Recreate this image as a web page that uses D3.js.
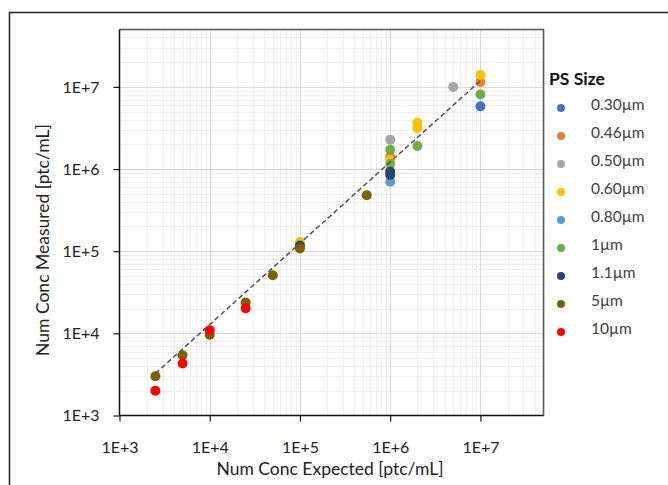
<!DOCTYPE html>
<html>
<head>
<meta charset="utf-8">
<script src="https://cdn.jsdelivr.net/npm/d3@7/dist/d3.min.js"></script>
<style>
  html, body { margin: 0; padding: 0; background: #fff; }
  svg { display: block; font-family: Lato, "Open Sans", sans-serif; }
</style>
</head>
<body>
<svg id="chart" width="668" height="485"></svg>
<script>
// Particle-size series: name, colour
const seriesNames = ["0.30µm", "0.46µm", "0.50µm", "0.60µm", "0.80µm", "1µm", "1.1µm", "5µm", "10µm"];
const seriesColors = ["#4472C4", "#ED7D31", "#A5A5A5", "#FFC000", "#5B9BD5", "#70AD47", "#264478", "#7F6000", "#FF0000"];

// Measured vs expected concentrations per series, [expected, measured]
const s030 = [[1e7, 5.8e6]];
const s046 = [[1e6, 1.41e6], [1e7, 1.15e7]];
const s050 = [[1e6, 2.28e6], [5e6, 1.0e7]];
const s060 = [[1e5, 1.29e5], [1e6, 1.29e6], [2e6, 3.67e6], [2e6, 3.14e6], [1e7, 1.4e7]];
const s080 = [[1e6, 7.0e5]];
const s1 = [[1e6, 1.72e6], [1e6, 1.15e6], [2e6, 1.91e6], [1e7, 8.1e6]];
const s11 = [[1e5, 1.17e5], [1e6, 9.3e5], [1e6, 8.5e5]];
const s5 = [[2.5e3, 3.0e3], [5e3, 5.4e3], [1e4, 9.6e3], [2.5e4, 2.37e4], [5e4, 5.1e4], [1e5, 1.08e5], [5.5e5, 4.8e5]];
const s10 = [[2.5e3, 2.0e3], [5e3, 4.3e3], [1e4, 1.09e4], [2.5e4, 2.02e4]];
const seriesData = [s030, s046, s050, s060, s080, s1, s11, s5, s10];

// Power-law trend line end points [expected, measured]
const trend = [[2.5e3, 3.25e3], [1e7, 1.19e7]];

// Axis ticks
const xTicks = [1e3, 1e4, 1e5, 1e6, 1e7];
const yTicks = [1e3, 1e4, 1e5, 1e6, 1e7];
const tickLabels = ["1E+3", "1E+4", "1E+5", "1E+6", "1E+7"];
const xTitle = "Num Conc Expected [ptc/mL]";
const yTitle = "Num Conc Measured [ptc/mL]";
const legendTitle = "PS Size";

const svg = d3.select("#chart");
const plot = { left: 119.5, right: 543.5, top: 29.5, bottom: 415.5 };

const x = d3.scaleLog().domain([1e3, 5e7]).range([plot.left, plot.right]);
const y = d3.scaleLog().domain([1e3, 5e7]).range([plot.bottom, plot.top]);

// Outer chart frame (runs off the right and bottom edges)
svg.append("rect")
  .attr("x", 9.5).attr("y", 12.5).attr("width", 700).attr("height", 500)
  .attr("fill", "none").attr("stroke", "#222").attr("stroke-width", 1.5);

// Gridlines: minor (2..9 per decade) and major (decades)
const minor = [];
for (let e = 3; e <= 7; e++) for (let m = 2; m <= 9; m++) {
  const v = m * Math.pow(10, e);
  if (v <= 5e7) minor.push(v);
}
const grid = svg.append("g");
grid.selectAll(".mx").data(minor).join("line")
  .attr("x1", d => Math.round(x(d)) + 0.5).attr("x2", d => Math.round(x(d)) + 0.5)
  .attr("y1", plot.top).attr("y2", plot.bottom)
  .attr("stroke", "#eeeeee").attr("stroke-width", 1);
grid.selectAll(".my").data(minor).join("line")
  .attr("y1", d => Math.round(y(d)) + 0.5).attr("y2", d => Math.round(y(d)) + 0.5)
  .attr("x1", plot.left).attr("x2", plot.right)
  .attr("stroke", "#eeeeee").attr("stroke-width", 1);
grid.selectAll(".Mx").data(xTicks.slice(1)).join("line")
  .attr("x1", d => Math.round(x(d)) + 0.5).attr("x2", d => Math.round(x(d)) + 0.5)
  .attr("y1", plot.top).attr("y2", plot.bottom)
  .attr("stroke", "#d9d9d9").attr("stroke-width", 1);
grid.selectAll(".My").data(yTicks.slice(1)).join("line")
  .attr("y1", d => Math.round(y(d)) + 0.5).attr("y2", d => Math.round(y(d)) + 0.5)
  .attr("x1", plot.left).attr("x2", plot.right)
  .attr("stroke", "#d9d9d9").attr("stroke-width", 1);

// Plot-area border on top and right
svg.append("path")
  .attr("d", `M${plot.left},${plot.top}H${plot.right}V${plot.bottom}`)
  .attr("fill", "none").attr("stroke", "#595959").attr("stroke-width", 1.5);

// Axes
const xAxis = svg.append("g")
  .attr("transform", `translate(0,${plot.bottom})`)
  .call(d3.axisBottom(x).tickValues(xTicks).tickFormat(d => tickLabels[xTicks.indexOf(d)]).tickSize(6).tickPadding(20));
const yAxis = svg.append("g")
  .attr("transform", `translate(${plot.left},0)`)
  .call(d3.axisLeft(y).tickValues(yTicks).tickFormat(d => tickLabels[yTicks.indexOf(d)]).tickSize(6).tickPadding(14));
[xAxis, yAxis].forEach(a => {
  a.select(".domain").attr("stroke", "#111").attr("stroke-width", 1.5);
  a.selectAll(".tick line").attr("stroke", "#111").attr("stroke-width", 1.2);
  a.selectAll(".tick text").attr("fill", "#222").style("font-size", "16px")
    .style("font-family", "Lato, sans-serif");
});
xAxis.select(".domain").attr("d", `M${plot.left},0H${plot.right}`);
yAxis.select(".domain").attr("d", `M0,${plot.bottom}V${plot.top}`);

// Axis titles
svg.append("text")
  .attr("x", 330).attr("y", 475)
  .attr("text-anchor", "middle").attr("fill", "#222")
  .style("font-size", "17.5px").text(xTitle);
svg.append("text")
  .attr("transform", `translate(49,240) rotate(-90)`)
  .attr("text-anchor", "middle").attr("fill", "#222")
  .style("font-size", "17.5px").text(yTitle);

// Points, drawn series by series (later series on top)
const pts = svg.append("g");
seriesData.forEach((data, i) => {
  pts.selectAll(null).data(data).join("circle")
    .attr("cx", d => x(d[0])).attr("cy", d => y(d[1]))
    .attr("r", 5).attr("fill", seriesColors[i]);
});

// Trend line over the markers
svg.append("line")
  .attr("x1", x(trend[0][0])).attr("y1", y(trend[0][1]))
  .attr("x2", x(trend[1][0])).attr("y2", y(trend[1][1]))
  .attr("stroke", "#505050").attr("stroke-width", 1.5)
  .attr("stroke-dasharray", "5,3");

// Legend
const lg = svg.append("g");
lg.append("text").attr("x", 549).attr("y", 85)
  .attr("fill", "#111").style("font-size", "17.5px").style("font-weight", "bold")
  .text(legendTitle);
seriesNames.forEach((name, i) => {
  const yy = 108 + i * 28;
  lg.append("circle").attr("cx", 561).attr("cy", yy).attr("r", 4).attr("fill", seriesColors[i]);
  lg.append("text").attr("x", 591).attr("y", yy + 2)
    .attr("fill", "#404040").style("font-size", "15.5px").text(name);
});
</script>
</body>
</html>
